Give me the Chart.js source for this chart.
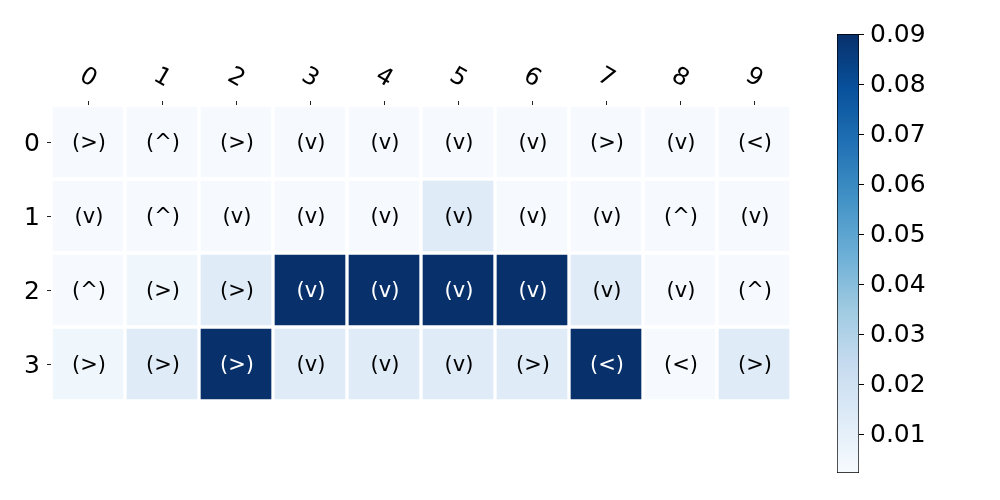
<!DOCTYPE html>
<html>
<head>
<meta charset="utf-8">
<script src="https://cdn.jsdelivr.net/npm/chart.js@4"></script>
<style>
  html, body { margin: 0; padding: 0; background: #ffffff; }
  #wrap { position: relative; width: 1000px; height: 500px; }
  #main { position: absolute; left: 0; top: 0; }
  #cbar { position: absolute; left: 800px; top: 0; }
</style>
</head>
<body>
<div id="wrap">
  <canvas id="main" width="1000" height="500"></canvas>
  <canvas id="cbar" width="200" height="500"></canvas>
</div>
<script>
// ---- data ----
const colLabels = ['0','1','2','3','4','5','6','7','8','9'];
const rowLabels = ['0','1','2','3'];
const row0Values = [0.0028,0.0028,0.0028,0.0028,0.0028,0.0028,0.0028,0.0028,0.0028,0.0028];
const row1Values = [0.0028,0.0028,0.0028,0.0028,0.0028,0.013,0.0028,0.0028,0.0028,0.0028];
const row2Values = [0.0028,0.006,0.013,0.09,0.09,0.09,0.09,0.013,0.0028,0.0028];
const row3Values = [0.006,0.013,0.09,0.013,0.013,0.013,0.013,0.09,0.0028,0.013];
const row0Annot = ['(>)','(^)','(>)','(v)','(v)','(v)','(v)','(>)','(v)','(<)'];
const row1Annot = ['(v)','(^)','(v)','(v)','(v)','(v)','(v)','(v)','(^)','(v)'];
const row2Annot = ['(^)','(>)','(>)','(v)','(v)','(v)','(v)','(v)','(v)','(^)'];
const row3Annot = ['(>)','(>)','(>)','(v)','(v)','(v)','(>)','(<)','(<)','(>)'];
const colorbarTicks = [0.01,0.02,0.03,0.04,0.05,0.06,0.07,0.08,0.09];
const vMin = 0.0023;
const vMax = 0.0902;

const rowValues = [row0Values, row1Values, row2Values, row3Values];
const rowAnnots = [row0Annot, row1Annot, row2Annot, row3Annot];

// ---- Blues colormap ----
const blues = [
  [247,251,255],[222,235,247],[198,219,239],[158,202,225],[107,174,214],
  [66,146,198],[33,113,181],[8,81,156],[8,48,107]
];
function bluesRGB(t) {
  t = Math.max(0, Math.min(1, t));
  const p = t * (blues.length - 1);
  const i = Math.min(blues.length - 2, Math.floor(p));
  const f = p - i;
  return blues[i].map((c, k) => Math.round(c + (blues[i+1][k] - c) * f));
}
function valueRGB(v) { return bluesRGB((v - vMin) / (vMax - vMin)); }
function rgbStr(c) { return 'rgb(' + c[0] + ',' + c[1] + ',' + c[2] + ')'; }
function luminance(c) {
  const l = c.map(x => { x /= 255; return x <= 0.03928 ? x / 12.92 : Math.pow((x + 0.055) / 1.055, 2.4); });
  return 0.2126 * l[0] + 0.7152 * l[1] + 0.0722 * l[2];
}

const FONT = '"DejaVu Sans", sans-serif';

// ---- main heatmap ----
const datasets = rowValues.map((vals, r) => ({
  label: 'row ' + rowLabels[r],
  data: vals.map(() => [r - 0.5, r + 0.5]),
  backgroundColor: vals.map(v => rgbStr(valueRGB(v))),
  borderColor: '#ffffff',
  borderWidth: 2,
  borderSkipped: false,
  grouped: false,
  barPercentage: 1,
  categoryPercentage: 1
}));

const heatLabels = {
  id: 'heatLabels',
  afterDatasetsDraw(chart) {
    const ctx = chart.ctx;
    const xs = chart.scales.x, ys = chart.scales.y;
    ctx.save();
    // annotations
    ctx.font = '21px ' + FONT;
    ctx.textAlign = 'center';
    ctx.textBaseline = 'middle';
    rowValues.forEach((vals, r) => {
      vals.forEach((v, c) => {
        const col = valueRGB(v);
        ctx.fillStyle = luminance(col) > 0.408 ? '#000000' : '#ffffff';
        ctx.fillText(rowAnnots[r][c], xs.getPixelForValue(c) + 1, ys.getPixelForValue(r) + 2);
      });
    });
    // rotated column labels
    ctx.fillStyle = '#000000';
    ctx.font = '24px ' + FONT;
    colLabels.forEach((lab, c) => {
      ctx.save();
      ctx.translate(xs.getPixelForValue(c), 78);
      ctx.rotate(30 * Math.PI / 180);
      ctx.fillText(lab, 0, 0);
      ctx.restore();
    });
    ctx.restore();
  }
};

new Chart(document.getElementById('main'), {
  type: 'bar',
  data: { labels: colLabels, datasets },
  options: {
    responsive: false,
    animation: false,
    devicePixelRatio: 1,
    layout: { padding: { left: 0, right: 209, top: 0, bottom: 99 } },
    plugins: { legend: { display: false }, tooltip: { enabled: false } },
    scales: {
      x: {
        type: 'category',
        position: 'top',
        offset: true,
        grid: { display: true, offset: false, drawOnChartArea: false, drawTicks: true, tickLength: 4, color: '#222222', lineWidth: 1 },
        border: { display: false },
        ticks: { color: 'rgba(0,0,0,0)', font: { size: 22, family: FONT }, maxRotation: 0, minRotation: 0 },
        afterFit(s) { s.height = 105; }
      },
      y: {
        type: 'linear',
        position: 'left',
        reverse: true,
        min: -0.5,
        max: 3.5,
        afterBuildTicks(s) { s.ticks = rowLabels.map((l, i) => ({ value: i })); },
        grid: { display: true, drawOnChartArea: false, drawTicks: true, tickLength: 4, color: '#222222', lineWidth: 1 },
        border: { display: false },
        ticks: {
          color: '#000000', padding: 7, labelOffset: 2,
          font: { size: 25, family: FONT },
          callback: (v) => rowLabels[v]
        },
        afterFit(s) { s.width = 51; }
      }
    }
  },
  plugins: [heatLabels]
});

// ---- colorbar ----
new Chart(document.getElementById('cbar'), {
  type: 'bar',
  data: {
    labels: ['scale'],
    datasets: [{
      data: [[vMin, vMax]],
      backgroundColor: (c) => {
        const area = c.chart.chartArea;
        if (!area) return rgbStr(blues[0]);
        const g = c.chart.ctx.createLinearGradient(0, area.bottom, 0, area.top);
        blues.forEach((b, i) => g.addColorStop(i / (blues.length - 1), rgbStr(b)));
        return g;
      },
      borderColor: '#000000',
      borderWidth: 1,
      borderSkipped: false,
      barPercentage: 1,
      categoryPercentage: 1
    }]
  },
  options: {
    responsive: false,
    animation: false,
    devicePixelRatio: 1,
    layout: { padding: { left: 37, right: 0, top: 34, bottom: 27 } },
    plugins: { legend: { display: false }, tooltip: { enabled: false } },
    scales: {
      x: { display: false },
      y: {
        position: 'right',
        min: vMin,
        max: vMax,
        afterBuildTicks(s) { s.ticks = colorbarTicks.map(v => ({ value: v })); },
        grid: { display: true, drawOnChartArea: false, drawTicks: true, tickLength: 5, color: '#000000', lineWidth: 1 },
        border: { display: false },
        ticks: {
          color: '#000000', padding: 6, labelOffset: 1,
          font: { size: 25, family: FONT },
          callback: (v) => Number(v).toFixed(2)
        },
        afterFit(s) { s.width = 141; }
      }
    }
  }
});
</script>
</body>
</html>
